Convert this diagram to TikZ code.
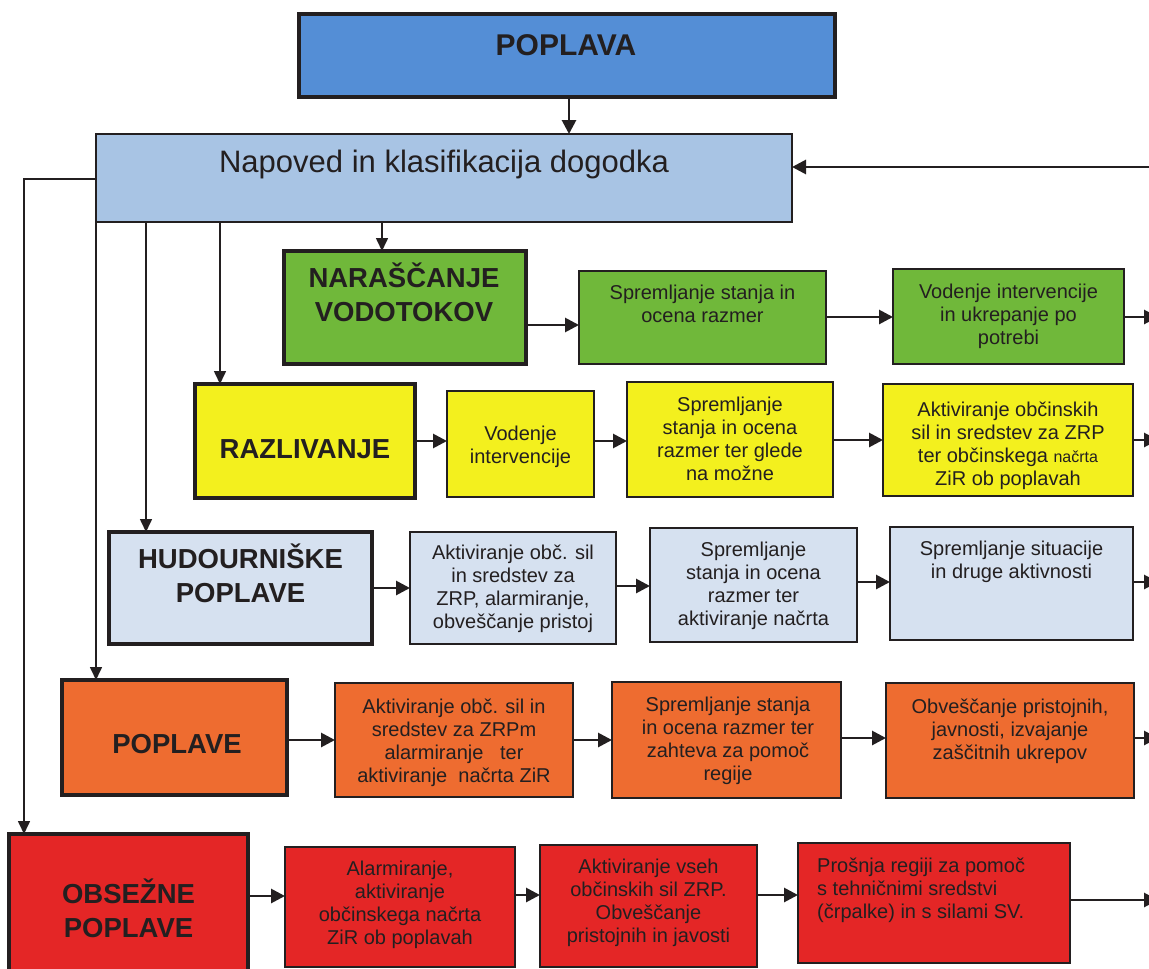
\documentclass[tikz,border=0pt]{standalone}
\usepackage{fontspec}
\setmainfont{Liberation Sans}
\usetikzlibrary{arrows.meta}
\definecolor{cTop}{RGB}{84,142,214}
\definecolor{cNap}{RGB}{168,196,228}
\definecolor{cGreen}{RGB}{112,184,58}
\definecolor{cYel}{RGB}{243,240,30}
\definecolor{cPale}{RGB}{214,225,240}
\definecolor{cOra}{RGB}{238,108,48}
\definecolor{cRed}{RGB}{228,38,38}
\definecolor{cInk}{RGB}{35,31,32}
\begin{document}
\begin{tikzpicture}[x=1pt,y=-1pt,
  box/.style={draw=cInk, line width=2pt, inner sep=0pt, outer sep=0pt, rectangle},
  mainbox/.style={box, line width=3.5pt},
  small/.style={font=\fontsize{20}{23}\selectfont, align=center, text=cInk, inner sep=0pt},
  title/.style={font=\fontsize{27.5}{34}\selectfont\bfseries, align=center, text=cInk, inner sep=0pt},
  arr/.style={draw=cInk, line width=2.8pt, -{Triangle[length=14pt 0 0,width=14pt 0 0]}},
  thinarr/.style={draw=cInk, line width=1.6pt, -{Triangle[length=13pt 0 0,width=12pt 0 0]}},
]
\useasboundingbox (0,0) rectangle (1149,969);
\fill[white] (0,0) rectangle (1149,969);
\clip (0,0) rectangle (1149,969);

% ---------- boxes ----------
\node[mainbox, fill=cTop, minimum width=536pt, minimum height=83pt] (top) at (567,55.5) {};
\node[box, line width=2.5pt, fill=cNap, minimum width=696pt, minimum height=88pt] (nap) at (444,178) {};

\node[mainbox, fill=cGreen, minimum width=242pt, minimum height=113pt] (n1) at (405,307.5) {};
\node[box, fill=cGreen, minimum width=247pt, minimum height=93pt] (g2) at (702.5,317.5) {};
\node[box, fill=cGreen, minimum width=231pt, minimum height=95pt] (g3) at (1008.5,316.5) {};

\node[mainbox, fill=cYel, minimum width=220pt, minimum height=114pt] (r1) at (305,441) {};
\node[box, fill=cYel, minimum width=147pt, minimum height=106pt] (y2) at (520.5,444) {};
\node[box, fill=cYel, minimum width=206pt, minimum height=115pt] (y3) at (730,439.5) {};
\node[box, fill=cYel, minimum width=250pt, minimum height=112pt] (y4) at (1008,440) {};

\node[mainbox, fill=cPale, minimum width=263pt, minimum height=112pt] (h1) at (240.5,588) {};
\node[box, fill=cPale, minimum width=206pt, minimum height=112pt] (b2) at (513,588) {};
\node[box, fill=cPale, minimum width=207pt, minimum height=114pt] (b3) at (753.5,585) {};
\node[box, fill=cPale, minimum width=243pt, minimum height=113pt] (b4) at (1011.5,583.5) {};

\node[mainbox, fill=cOra, minimum width=225pt, minimum height=115pt] (p1) at (174.5,737.5) {};
\node[box, fill=cOra, minimum width=238pt, minimum height=114pt] (o2) at (454,740) {};
\node[box, fill=cOra, minimum width=229pt, minimum height=116pt] (o3) at (726.5,740) {};
\node[box, fill=cOra, minimum width=248pt, minimum height=115pt] (o4) at (1010,740.5) {};

\node[mainbox, fill=cRed, minimum width=239pt, minimum height=156pt] (ob) at (128.5,912) {};
\node[box, fill=cRed, minimum width=230pt, minimum height=120pt] (r2) at (400,907) {};
\node[box, fill=cRed, minimum width=217pt, minimum height=122pt] (r3) at (648.5,906) {};
\node[box, fill=cRed, minimum width=272pt, minimum height=120pt] (r4) at (934,903) {};

% ---------- texts ----------
\node[font=\fontsize{30}{36}\selectfont\bfseries, text=cInk, inner sep=0pt, anchor=base] (tTop) at (566,55) {POPLAVA};
\node[font=\fontsize{31}{36}\selectfont, text=cInk, inner sep=0pt, anchor=base] (tNap) at (444,172) {Napoved in klasifikacija dogodka};

\node[title] (tn1) at (404,292) {NARAŠČANJE\\VODOTOKOV};
\node[small] (tg2) at (702.5,304) {Spremljanje stanja in\\ocena razmer};
\node[small] (tg3) at (1008.5,316.3) {Vodenje intervencije\\in ukrepanje po\\potrebi};

\node[title, anchor=base] (tr1) at (305,458) {RAZLIVANJE};
\node[small] (ty2) at (520.5,447.3) {Vodenje\\intervencije};
\node[small] (ty3) at (730,438.7) {Spremljanje\\stanja in ocena\\razmer ter glede\\na možne};
\node[small] (ty4) at (1008,445.3) {Aktiviranje občinskih\\sil in sredstev za ZRP\\ter občinskega {\fontsize{16}{23}\selectfont načrta}\\ZiR ob poplavah};

\node[title] (th1) at (240.5,573) {HUDOURNIŠKE\\POPLAVE};
\node[small] (tb2) at (513,588.3) {Aktiviranje obč. sil\\in sredstev za\\ZRP, alarmiranje,\\obveščanje pristoj};
\node[small] (tb3) at (753.5,586.3) {Spremljanje\\stanja in ocena\\razmer ter\\aktiviranje načrta};
\node[small] (tb4) at (1011.5,561.8) {Spremljanje situacije\\in druge aktivnosti};

\node[title, anchor=base] (tp1) at (177,753) {POPLAVE};
\node[small] (to2) at (454,742.8) {Aktiviranje obč. sil in\\sredstev za ZRPm\\alarmiranje~~~ter\\aktiviranje~~načrta ZiR};
\node[small] (to3) at (728,740.8) {Spremljanje stanja\\in ocena razmer ter\\zahteva za pomoč\\regije};
\node[small] (to4) at (1010,730.8) {Obveščanje pristojnih,\\javnosti, izvajanje\\zaščitnih ukrepov};

\node[title] (tob) at (128.5,908) {OBSEŽNE\\POPLAVE};
\node[small] (tr2) at (400,904.8) {Alarmiranje,\\aktiviranje\\občinskega načrta\\ZiR ob poplavah};
\node[small] (tr3) at (648.5,902.8) {Aktiviranje vseh\\občinskih sil ZRP.\\Obveščanje\\pristojnih in javosti};
\node[small, align=left, anchor=west] (tr4) at (817,889.8) {Prošnja regiji za pomoč\\s tehničnimi sredstvi\\(črpalke) in s silami SV.};

% ---------- outer connector ends ----------
\coordinate (inR) at (1160,167);
\coordinate (eG) at (1158,317);
\coordinate (eY) at (1158,440);
\coordinate (eB) at (1158,582);
\coordinate (eO) at (1158,738);
\coordinate (eR) at (1158,900);
\coordinate (bendL) at (24,179);

% ---------- connectors ----------
\draw[arr] (top.south -| 569,0) -- (nap.north -| 569,0);
\draw[arr] (inR) -- (nap.east |- inR);

\draw[thinarr] (nap.west |- bendL) -- (bendL) -- (ob.north -| bendL);
\draw[thinarr] (nap.south west) -- (p1.north -| nap.south west);
\draw[thinarr] (nap.south -| 146,0) -- (h1.north -| 146,0);
\draw[thinarr] (nap.south -| 220,0) -- (r1.north -| 220,0);
\draw[thinarr] (nap.south -| 382,0) -- (n1.north -| 382,0);

\draw[arr] (n1.east |- 0,325) -- (g2.west |- 0,325);
\draw[arr] (g2.east |- eG) -- (g3.west |- eG);
\draw[arr] (g3.east |- eG) -- (eG);

\draw[arr] (r1.east |- 0,441) -- (y2.west |- 0,441);
\draw[arr] (y2.east |- 0,441) -- (y3.west |- 0,441);
\draw[arr] (y3.east |- eY) -- (y4.west |- eY);
\draw[arr] (y4.east |- eY) -- (eY);

\draw[arr] (h1.east |- 0,588) -- (b2.west |- 0,588);
\draw[arr] (b2.east |- 0,586) -- (b3.west |- 0,586);
\draw[arr] (b3.east |- eB) -- (b4.west |- eB);
\draw[arr] (b4.east |- eB) -- (eB);

\draw[arr] (p1.east |- 0,740) -- (o2.west |- 0,740);
\draw[arr] (o2.east |- 0,740) -- (o3.west |- 0,740);
\draw[arr] (o3.east |- eO) -- (o4.west |- eO);
\draw[arr] (o4.east |- eO) -- (eO);

\draw[arr] (ob.east |- 0,896) -- (r2.west |- 0,896);
\draw[arr] (r2.east |- 0,895) -- (r3.west |- 0,895);
\draw[arr] (r3.east |- 0,895) -- (r4.west |- 0,895);
\draw[arr] (r4.east |- eR) -- (eR);
\end{tikzpicture}
\end{document}
